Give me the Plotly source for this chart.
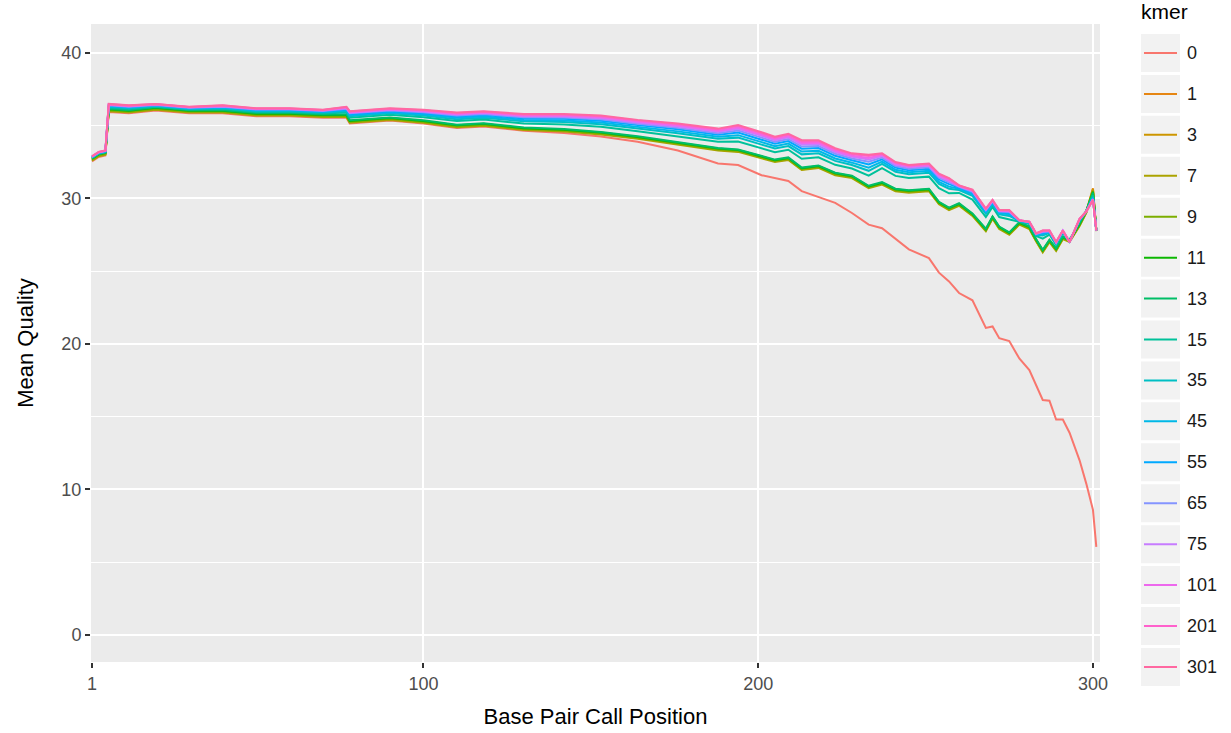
import math
import plotly.graph_objects as go

# ---------------- data ----------------
positions = [1, 3, 5, 6, 12, 20, 30, 40, 50, 60, 70, 77, 78, 90, 100, 110, 118, 130, 142, 153,
             164, 176, 188, 194, 201, 205, 209, 213, 218, 223, 228, 233, 237, 241, 245, 251,
             254, 257, 260, 264, 268, 270, 272, 275, 278, 281, 283, 285, 287, 289, 291, 293,
             296, 298, 300, 301]

kmer_levels = ["0", "1", "3", "7", "9", "11", "13", "15", "35", "45", "55", "65", "75", "101", "201", "301"]

q_k0 = [32.55, 32.85, 32.95, 35.95, 35.85, 36.05, 35.85, 35.85, 35.65, 35.65, 35.55, 35.55, 35.15, 35.35,
        35.15, 34.85, 34.95, 34.65, 34.5, 34.25, 33.9, 33.3, 32.4, 32.3, 31.6, 31.4, 31.2, 30.5, 30.1,
        29.7, 29.0, 28.2, 27.95, 27.2, 26.5, 25.9, 24.9, 24.3, 23.5, 23.0, 21.1, 21.2, 20.4, 20.2, 19.0,
        18.2, 17.2, 16.15, 16.1, 14.8, 14.8, 13.9, 12.0, 10.4, 8.6, 6.05]
q_k1 = [32.7, 33.0, 33.1, 36.1, 36.0, 36.2, 36.0, 36.0, 35.8, 35.8, 35.7, 35.7, 35.3, 35.5, 35.3, 35.0,
        35.1, 34.8, 34.7, 34.5, 34.2, 33.8, 33.4, 33.3, 32.85, 32.6, 32.75, 32.05, 32.2, 31.7, 31.5, 30.8,
        31.05, 30.6, 30.5, 30.6, 29.7, 29.3, 29.6, 28.9, 27.85, 28.7, 28.0, 27.6, 28.3, 28.0, 27.15, 26.4,
        27.1, 26.5, 27.3, 27.1, 28.2, 29.1, 30.7, 27.8]
q_k3 = [32.65, 32.95, 33.05, 36.05, 35.95, 36.15, 35.95, 35.95, 35.75, 35.75, 35.65, 35.65, 35.25, 35.45,
        35.25, 34.95, 35.05, 34.75, 34.65, 34.45, 34.15, 33.75, 33.35, 33.25, 32.8, 32.55, 32.7, 32.0,
        32.15, 31.65, 31.45, 30.75, 31.0, 30.55, 30.45, 30.55, 29.65, 29.25, 29.55, 28.85, 27.8, 28.65,
        27.95, 27.55, 28.25, 27.95, 27.1, 26.35, 27.05, 26.45, 27.25, 27.05, 28.15, 29.05, 30.65, 27.8]
q_k7 = [32.6, 32.9, 33.0, 36.0, 35.9, 36.1, 35.9, 35.9, 35.7, 35.7, 35.6, 35.6, 35.2, 35.4, 35.2, 34.9,
        35.0, 34.7, 34.6, 34.4, 34.1, 33.7, 33.3, 33.2, 32.75, 32.5, 32.65, 31.95, 32.1, 31.6, 31.4, 30.7,
        30.95, 30.5, 30.4, 30.5, 29.6, 29.2, 29.5, 28.8, 27.75, 28.6, 27.9, 27.5, 28.2, 27.9, 27.05, 26.3,
        27.0, 26.4, 27.2, 27.0, 28.1, 29.0, 30.55, 27.75]
q_k9 = [32.67, 32.97, 33.07, 36.07, 35.97, 36.17, 35.97, 35.97, 35.77, 35.77, 35.67, 35.67, 35.27, 35.47,
        35.27, 34.97, 35.07, 34.77, 34.67, 34.47, 34.17, 33.77, 33.37, 33.27, 32.82, 32.57, 32.72, 32.02,
        32.17, 31.67, 31.47, 30.77, 31.02, 30.57, 30.47, 30.57, 29.67, 29.27, 29.57, 28.87, 27.82, 28.67,
        27.97, 27.57, 28.27, 27.97, 27.12, 26.37, 27.07, 26.47, 27.27, 27.07, 28.17, 29.07, 30.5, 27.8]
q_k11 = [32.73, 33.03, 33.13, 36.13, 36.03, 36.23, 36.03, 36.03, 35.83, 35.83, 35.73, 35.73, 35.33, 35.53,
         35.33, 35.03, 35.13, 34.83, 34.73, 34.53, 34.23, 33.83, 33.43, 33.33, 32.88, 32.63, 32.78, 32.08,
         32.23, 31.73, 31.53, 30.83, 31.08, 30.63, 30.53, 30.63, 29.73, 29.33, 29.63, 28.93, 27.88, 28.73,
         28.03, 27.63, 28.33, 28.03, 27.18, 26.43, 27.13, 26.53, 27.33, 27.13, 28.23, 29.13, 30.45, 27.8]
q_k13 = [32.77, 33.07, 33.17, 36.17, 36.07, 36.27, 36.07, 36.07, 35.87, 35.87, 35.77, 35.77, 35.37, 35.57,
         35.37, 35.07, 35.17, 34.87, 34.77, 34.57, 34.27, 33.87, 33.47, 33.37, 32.92, 32.67, 32.82, 32.12,
         32.27, 31.77, 31.57, 30.87, 31.12, 30.67, 30.57, 30.67, 29.77, 29.37, 29.67, 28.97, 27.92, 28.77,
         28.07, 27.67, 28.37, 28.07, 27.22, 26.47, 27.17, 26.57, 27.37, 27.17, 28.27, 29.17, 30.4, 27.8]
q_k15 = [32.77, 33.07, 33.17, 36.24, 36.14, 36.31, 36.11, 36.14, 35.94, 35.94, 35.84, 35.91, 35.55, 35.75,
         35.58, 35.32, 35.42, 35.15, 35.09, 34.92, 34.62, 34.27, 33.89, 33.91, 33.45, 33.18, 33.35, 32.73,
         32.83, 32.31, 32.06, 31.57, 32.08, 31.55, 31.40, 31.50, 30.70, 30.35, 30.38, 29.92, 28.72, 29.42,
         28.72, 28.56, 28.42, 28.24, 27.42, 27.24, 27.52, 26.80, 27.60, 27.04, 28.44, 29.10, 30.22, 27.8]
q_k35 = [32.80, 33.10, 33.20, 36.30, 36.20, 36.35, 36.15, 36.20, 36.00, 36.00, 35.90, 36.00, 35.65, 35.85,
         35.70, 35.45, 35.55, 35.30, 35.25, 35.10, 34.80, 34.48, 34.10, 34.18, 33.70, 33.43, 33.60, 33.03,
         33.10, 32.58, 32.30, 31.90, 32.38, 31.84, 31.67, 31.77, 31.00, 30.67, 30.58, 30.18, 28.94, 29.60,
         28.90, 28.80, 28.45, 28.30, 27.49, 27.45, 27.63, 26.88, 27.68, 27.03, 28.50, 29.10, 30.10, 27.8]
q_k45 = [32.82, 33.12, 33.22, 36.34, 36.24, 36.38, 36.18, 36.24, 36.04, 36.04, 35.94, 36.06, 35.72, 35.92,
         35.78, 35.54, 35.64, 35.40, 35.36, 35.22, 34.92, 34.61, 34.24, 34.35, 33.87, 33.59, 33.77, 33.22,
         33.28, 32.75, 32.46, 32.12, 32.53, 31.97, 31.80, 31.90, 31.14, 30.81, 30.67, 30.29, 29.04, 29.68,
         28.98, 28.91, 28.46, 28.33, 27.52, 27.55, 27.67, 26.91, 27.71, 27.02, 28.53, 29.10, 30.04, 27.8]
q_k55 = [32.84, 33.14, 33.24, 36.38, 36.28, 36.41, 36.21, 36.28, 36.08, 36.08, 35.98, 36.12, 35.79, 35.99,
         35.86, 35.63, 35.73, 35.50, 35.47, 35.34, 35.04, 34.75, 34.38, 34.53, 34.04, 33.76, 33.94, 33.42,
         33.46, 32.93, 32.62, 32.34, 32.69, 32.12, 31.94, 32.04, 31.30, 30.98, 30.74, 30.40, 29.13, 29.76,
         29.06, 29.01, 28.48, 28.35, 27.55, 27.63, 27.72, 26.94, 27.74, 27.01, 28.55, 29.10, 30.00, 27.8]
q_k65 = [32.86, 33.16, 33.26, 36.41, 36.31, 36.43, 36.23, 36.31, 36.11, 36.11, 36.01, 36.17, 35.85, 36.05,
         35.92, 35.70, 35.80, 35.58, 35.56, 35.44, 35.14, 34.85, 34.49, 34.67, 34.18, 33.89, 34.08, 33.57,
         33.60, 33.07, 32.75, 32.52, 32.81, 32.23, 32.05, 32.15, 31.42, 31.11, 30.80, 30.46, 29.18, 29.80,
         29.10, 29.07, 28.48, 28.37, 27.56, 27.69, 27.74, 26.96, 27.76, 27.01, 28.57, 29.10, 29.96, 27.8]
q_k75 = [32.87, 33.17, 33.27, 36.44, 36.34, 36.46, 36.26, 36.34, 36.14, 36.14, 36.04, 36.21, 35.90, 36.10,
         35.98, 35.77, 35.87, 35.65, 35.64, 35.52, 35.22, 34.95, 34.59, 34.79, 34.30, 34.00, 34.20, 33.71,
         33.73, 33.19, 32.86, 32.67, 32.92, 32.33, 32.14, 32.24, 31.52, 31.21, 30.84, 30.52, 29.23, 29.84,
         29.14, 29.12, 28.49, 28.38, 27.58, 27.73, 27.77, 26.98, 27.78, 27.01, 28.58, 29.10, 29.94, 27.8]
q_k101 = [32.88, 33.18, 33.28, 36.46, 36.36, 36.47, 36.27, 36.36, 36.16, 36.16, 36.06, 36.24, 35.93, 36.13,
          36.02, 35.81, 35.91, 35.70, 35.69, 35.58, 35.28, 35.02, 34.66, 34.88, 34.38, 34.09, 34.28, 33.81,
          33.82, 33.28, 32.94, 32.78, 32.98, 32.39, 32.19, 32.29, 31.58, 31.27, 30.86, 30.55, 29.26, 29.86,
          29.16, 29.15, 28.49, 28.39, 27.59, 27.76, 27.78, 26.99, 27.79, 27.00, 28.59, 29.10, 29.92, 27.8]
q_k201 = [32.89, 33.19, 33.29, 36.48, 36.38, 36.49, 36.29, 36.38, 36.18, 36.18, 36.08, 36.28, 35.97, 36.17,
          36.07, 35.86, 35.96, 35.76, 35.76, 35.65, 35.35, 35.10, 34.74, 34.98, 34.48, 34.18, 34.38, 33.92,
          33.93, 33.38, 33.04, 32.91, 33.06, 32.46, 32.26, 32.36, 31.66, 31.36, 30.89, 30.58, 29.29, 29.89,
          29.19, 29.18, 28.50, 28.40, 27.60, 27.79, 27.79, 27.00, 27.80, 27.00, 28.60, 29.10, 29.91, 27.8]
q_k301 = [32.9, 33.2, 33.3, 36.5, 36.4, 36.5, 36.3, 36.4, 36.2, 36.2, 36.1, 36.3, 36.0, 36.2, 36.1, 35.9,
          36.0, 35.8, 35.8, 35.7, 35.4, 35.15, 34.8, 35.05, 34.55, 34.25, 34.45, 34.0, 34.0, 33.45, 33.1,
          33.0, 33.1, 32.5, 32.3, 32.4, 31.7, 31.4, 30.9, 30.6, 29.3, 29.9, 29.2, 29.2, 28.5, 28.4, 27.6,
          27.8, 27.8, 27.0, 27.8, 27.0, 28.6, 29.1, 29.9, 27.8]

x_tick_vals = [1, 100, 200, 300]

series = [q_k0, q_k1, q_k3, q_k7, q_k9, q_k11, q_k13, q_k15, q_k35, q_k45,
          q_k55, q_k65, q_k75, q_k101, q_k201, q_k301]


# ---------------- ggplot2 hue palette ----------------
def hcl_hex(h, c=100.0, l=65.0):
    hr = math.radians(h)
    u, v = c * math.cos(hr), c * math.sin(hr)
    Xn, Yn, Zn = 95.047, 100.0, 108.883
    den = Xn + 15 * Yn + 3 * Zn
    un, vn = 4 * Xn / den, 9 * Yn / den
    Y = Yn * ((l + 16) / 116) ** 3
    up = u / (13 * l) + un
    vp = v / (13 * l) + vn
    X = 9.0 * Y * up / (4 * vp)
    Z = -X / 3 - 5 * Y + 3 * Y / vp
    X, Y, Z = X / 100, Y / 100, Z / 100
    r = 3.240479 * X - 1.537150 * Y - 0.498535 * Z
    g = -0.969256 * X + 1.875992 * Y + 0.041556 * Z
    b = 0.055648 * X - 0.204043 * Y + 1.057311 * Z

    def gam(t):
        t = 1.055 * t ** (1 / 2.4) - 0.055 if t > 0.0031308 else 12.92 * t
        return max(0, min(255, round(t * 255)))
    return "#%02X%02X%02X" % (gam(r), gam(g), gam(b))


n = len(kmer_levels)
colors = [hcl_hex(15 + 360.0 * i / n) for i in range(n)]

# ---------------- layout constants ----------------
W, H = 1231, 733
ML, MR, MT, MB = 91, 131, 24, 71
PW, PH = W - ML - MR, H - MT - MB
FONT = "Liberation Sans, Arial, sans-serif"


def px_x(px):
    return (px - ML) / PW


def px_y(py):
    return 1 - (py - MT) / PH


fig = go.Figure()
for k, vals, col in zip(kmer_levels, series, colors):
    fig.add_trace(go.Scatter(x=positions, y=vals, mode="lines", name=k,
                             line=dict(color=col, width=2), showlegend=False))

# manual ggplot-style legend
shapes = []
annotations = []
y0c, step = 53, 40.93
for i, (k, col) in enumerate(zip(kmer_levels, colors)):
    cy = y0c + step * i
    shapes.append(dict(type="rect", xref="paper", yref="paper",
                       x0=px_x(1141), x1=px_x(1180), y0=px_y(cy + 19), y1=px_y(cy - 19),
                       fillcolor="#F2F2F2", line=dict(width=0), layer="below"))
    shapes.append(dict(type="line", xref="paper", yref="paper",
                       x0=px_x(1144), x1=px_x(1177), y0=px_y(cy), y1=px_y(cy),
                       line=dict(color=col, width=2)))
    annotations.append(dict(text=k, xref="paper", yref="paper", x=px_x(1185), y=px_y(cy),
                            xanchor="left", yanchor="middle", showarrow=False,
                            font=dict(family=FONT, size=18, color="#1A1A1A")))
annotations.append(dict(text="kmer", xref="paper", yref="paper", x=px_x(1139), y=px_y(25),
                        xanchor="left", yanchor="bottom", showarrow=False,
                        font=dict(family=FONT, size=21, color="#000000")))

fig.update_layout(
    width=W, height=H,
    margin=dict(l=ML, r=MR, t=MT, b=MB, autoexpand=False),
    paper_bgcolor="white", plot_bgcolor="#EBEBEB",
    shapes=shapes, annotations=annotations,
    font=dict(family=FONT),
    xaxis=dict(range=[0.7, 302.1], tickvals=x_tick_vals, ticktext=[str(v) for v in x_tick_vals],
               showgrid=True, gridcolor="white", gridwidth=2, zeroline=False,
               ticks="outside", ticklen=5, tickwidth=1.5, tickcolor="#333333",
               tickfont=dict(family=FONT, size=18, color="#4D4D4D"),
               title=dict(text="Base Pair Call Position", font=dict(family=FONT, size=22, color="#000000"),
                          standoff=16),
               showline=False, automargin=False),
    yaxis=dict(range=[-1.86, 41.99], tick0=0, dtick=10,
               showgrid=True, gridcolor="white", gridwidth=2, zeroline=False,
               minor=dict(dtick=5, showgrid=True, gridcolor="white", gridwidth=1),
               ticks="outside", ticklen=5, tickwidth=1.5, tickcolor="#333333",
               tickfont=dict(family=FONT, size=18, color="#4D4D4D"),
               title=dict(text="Mean Quality", font=dict(family=FONT, size=22, color="#000000"),
                          standoff=21),
               showline=False, automargin=False),
)

fig.write_html("out.html",
               config={"displayModeBar": False},
               post_script="document.body.style.margin='0px';document.body.style.padding='0px';"
                           "document.documentElement.style.overflow='hidden';")
